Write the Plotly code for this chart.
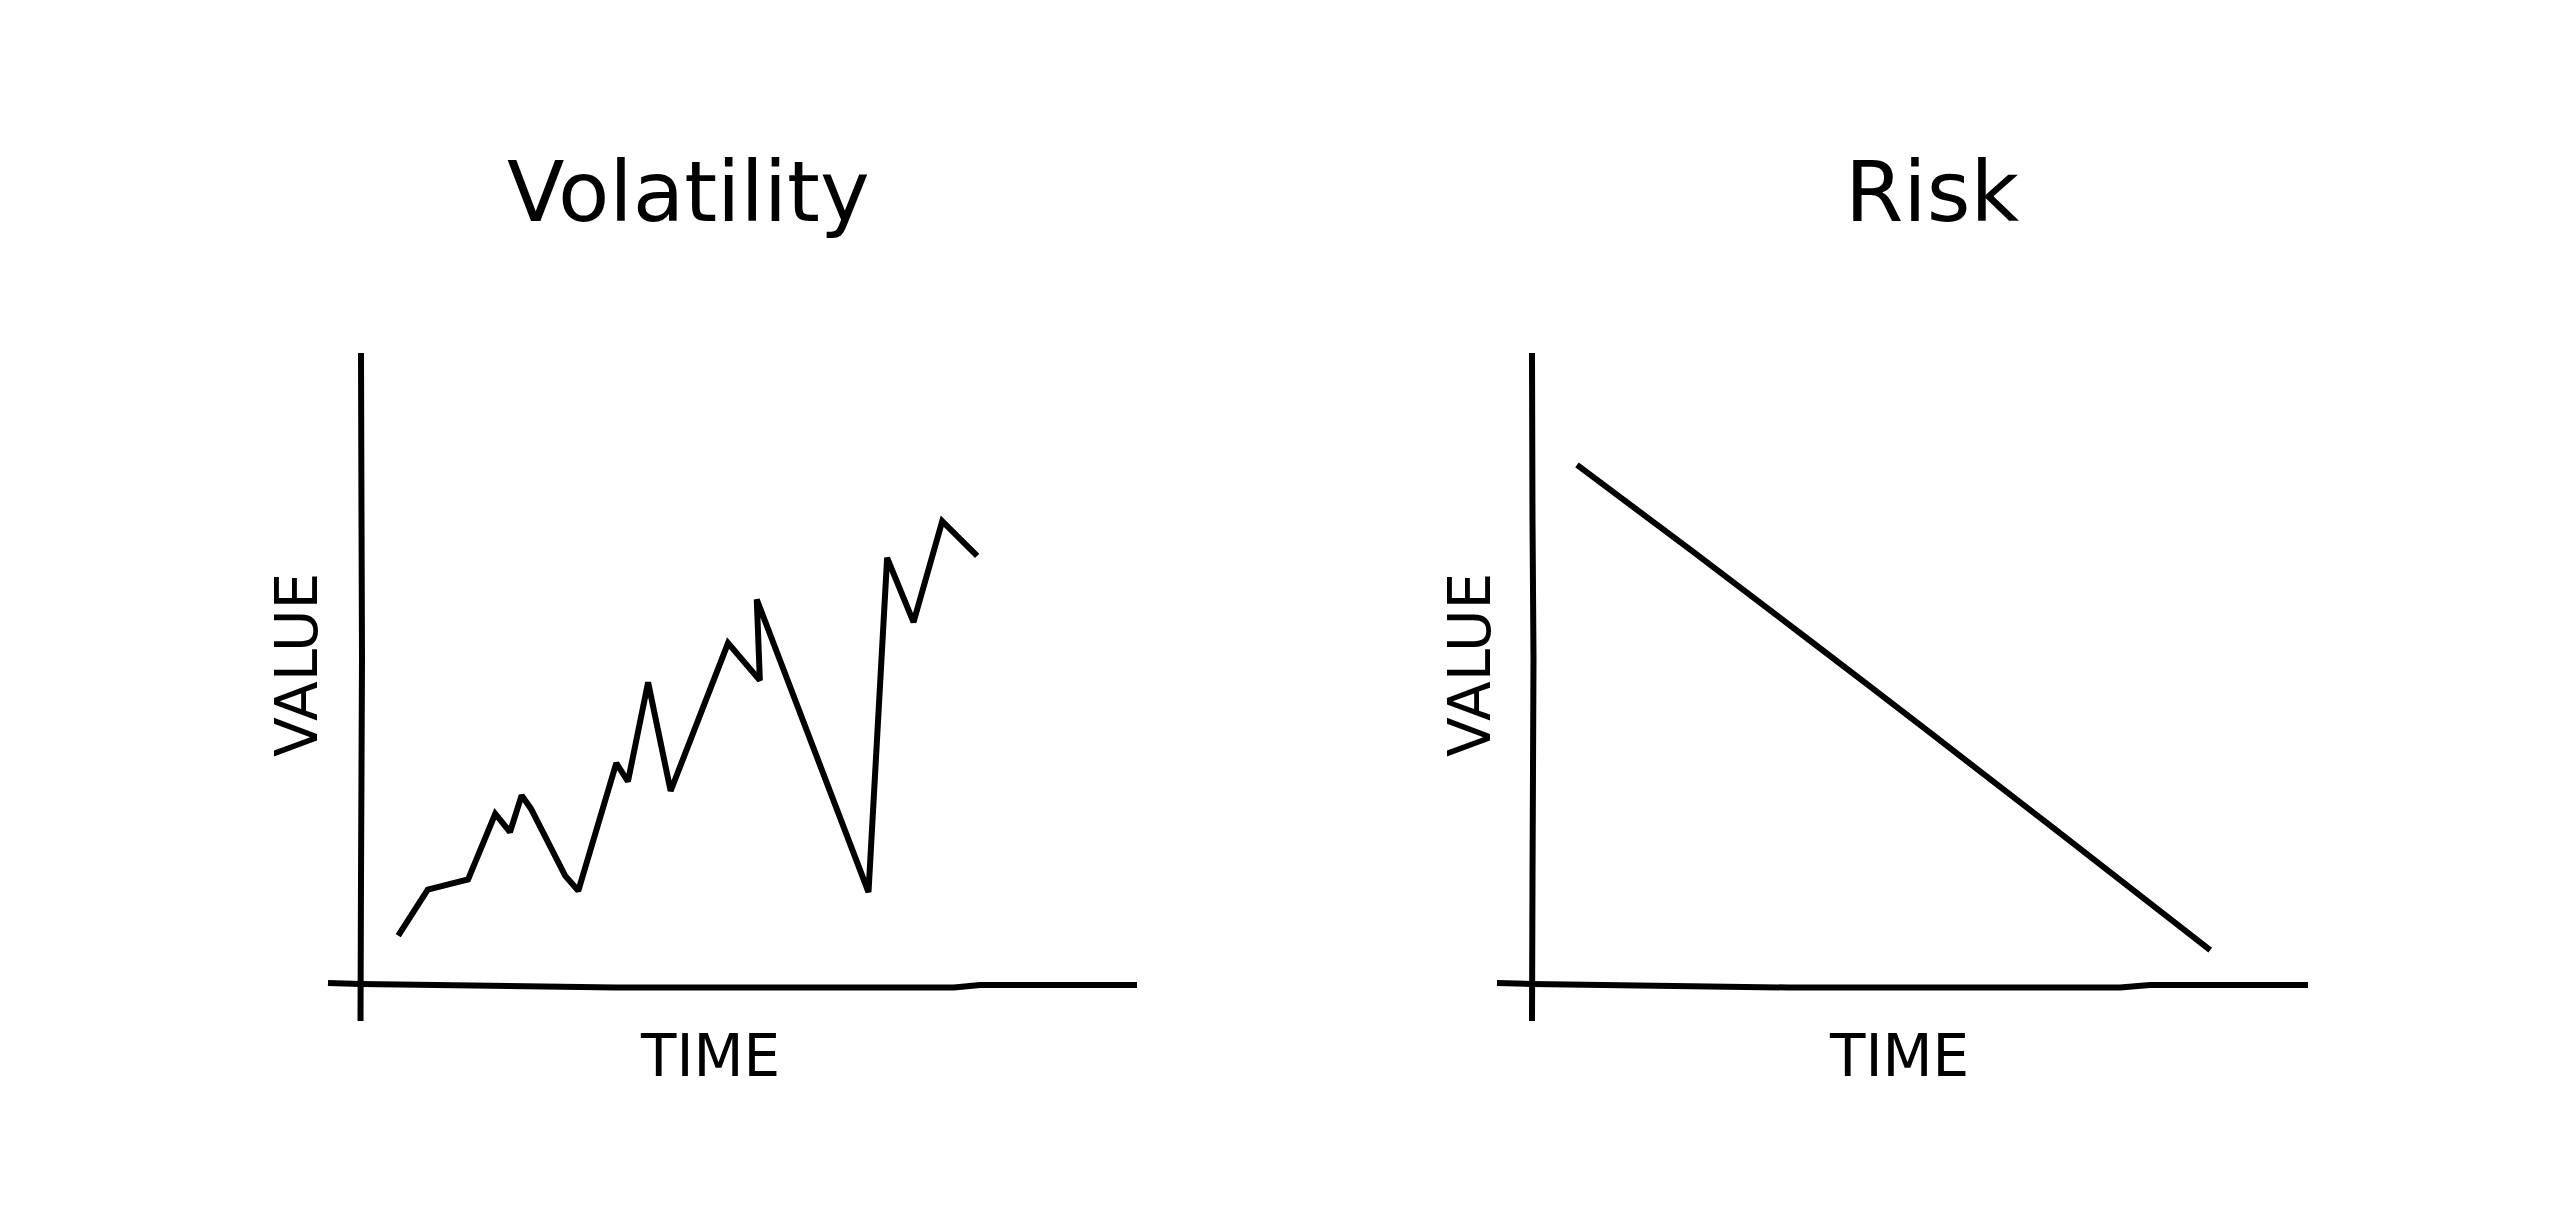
import plotly.graph_objects as go

W, H = 2561, 1232

# ---- data (time 0-100 along the x axis, value 0-100 up the y axis) ----
vol_time = [4.8, 8.6, 13.8, 17.3, 19.2, 20.7, 21.9, 26.3, 28.0, 32.9, 34.4,
            37.0, 39.9, 47.3, 51.4, 51.0, 65.4, 67.8, 71.2, 74.9, 79.4]
vol_value = [7.8, 15.1, 16.7, 27.1, 24.2, 30.0, 27.9, 17.3, 14.9, 35.1, 32.2,
             47.9, 30.7, 54.1, 48.2, 61.0, 14.7, 67.6, 57.4, 73.4, 67.9]

risk_time = [5.8, 20.7, 43.8, 66.8, 87.4]
risk_value = [82.3, 68.6, 47.0, 25.2, 5.5]

titles = ["Volatility", "Risk"]
x_label = "TIME"
y_label = "VALUE"

FONT = "DejaVu Sans"
INK = "#000000"
LW = 6


def px(x):
    return x / W


def py(y):
    return 1 - y / H


def path(points):
    return "M " + " L ".join(f"{px(x):.5f},{py(y):.5f}" for x, y in points)


fig = go.Figure()
fig.add_trace(go.Scatter(x=vol_time, y=vol_value, mode="lines",
                         line=dict(color=INK, width=LW), xaxis="x", yaxis="y",
                         showlegend=False, hoverinfo="skip"))
fig.add_trace(go.Scatter(x=risk_time, y=risk_value, mode="lines",
                         line=dict(color=INK, width=LW, shape="spline", smoothing=1.0),
                         xaxis="x2", yaxis="y2",
                         showlegend=False, hoverinfo="skip"))

ydom = [py(985), py(353)]
ax_common = dict(visible=False, range=[0, 100], fixedrange=True)
fig.update_layout(
    width=W, height=H, autosize=False,
    margin=dict(l=0, r=0, t=0, b=0),
    paper_bgcolor="white", plot_bgcolor="white",
    xaxis=dict(domain=[px(361), px(1137)], **ax_common),
    yaxis=dict(domain=ydom, **ax_common),
    xaxis2=dict(domain=[px(1532), px(2308)], anchor="y2", **ax_common),
    yaxis2=dict(domain=ydom, anchor="x2", **ax_common),
)

# hand-drawn looking axes
axis_paths = [
    [(328, 983), (361, 984), (616, 987.5), (954, 987.5), (980, 985), (1137, 985)],
    [(361, 353), (361.5, 520), (362, 659), (361, 880), (360.5, 1021)],
    [(1497, 983), (1532, 984), (1788, 987.5), (2120, 987.5), (2150, 985), (2308, 985)],
    [(1532, 353), (1532.5, 520), (1533.5, 659), (1532.5, 880), (1532, 1021)],
]
for pts in axis_paths:
    fig.add_shape(type="path", path=path(pts), xref="paper", yref="paper",
                  line=dict(color=INK, width=LW), layer="above")

# titles and labels
for text, cx in zip(titles, [688, 1932]):
    fig.add_annotation(text=text, x=px(cx), y=py(192), xref="paper", yref="paper",
                       showarrow=False, font=dict(family=FONT, size=84, color=INK),
                       xanchor="center", yanchor="middle")
for cx in [710, 1899]:
    fig.add_annotation(text=x_label, x=px(cx), y=py(1056), xref="paper", yref="paper",
                       showarrow=False, font=dict(family=FONT, size=58, color=INK),
                       xanchor="center", yanchor="middle")
for cx in [297, 1470]:
    fig.add_annotation(text=y_label, x=px(cx), y=py(665), xref="paper", yref="paper",
                       showarrow=False, textangle=-90,
                       font=dict(family=FONT, size=58, color=INK),
                       xanchor="center", yanchor="middle")

fig.write_html("out.html", config={"displayModeBar": False, "staticPlot": True},
               post_script="document.body.style.margin='0';document.body.style.overflow='hidden';")
